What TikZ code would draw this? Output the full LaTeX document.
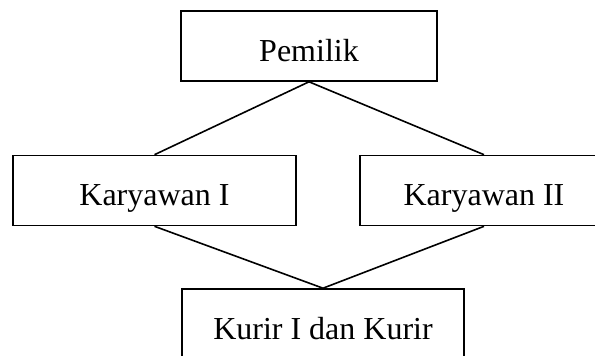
\documentclass[tikz,border=0pt]{standalone}
\usepackage{fontspec}
\setmainfont{Liberation Serif}
\begin{document}
\begin{tikzpicture}[x=1pt,y=-1pt,
  orgbox/.style={draw=black, line width=1.6pt, rectangle, inner sep=0pt,
    text height=30pt, text depth=0pt, minimum height=70pt,
    font=\fontsize{32}{38}\selectfont},
  link/.style={draw=black, line width=1.6pt}]
\useasboundingbox (0,0) rectangle (595,356);
\clip (0,0) rectangle (595,356);
\node[orgbox, minimum width=256pt] (pem) at (309,46) {Pemilik};
\node[orgbox, minimum width=283pt] (k1) at (154.5,190.5) {Karyawan I};
\node[orgbox, minimum width=248pt] (k2) at (484,190.5) {Karyawan II};
\node[orgbox, minimum width=282pt] (kur) at (323,324) {Kurir I dan Kurir};
\draw[link] (k1.north) -- (pem.south) -- (k2.north);
\draw[link] (k1.south) -- (kur.north) -- (k2.south);
\end{tikzpicture}
\end{document}
